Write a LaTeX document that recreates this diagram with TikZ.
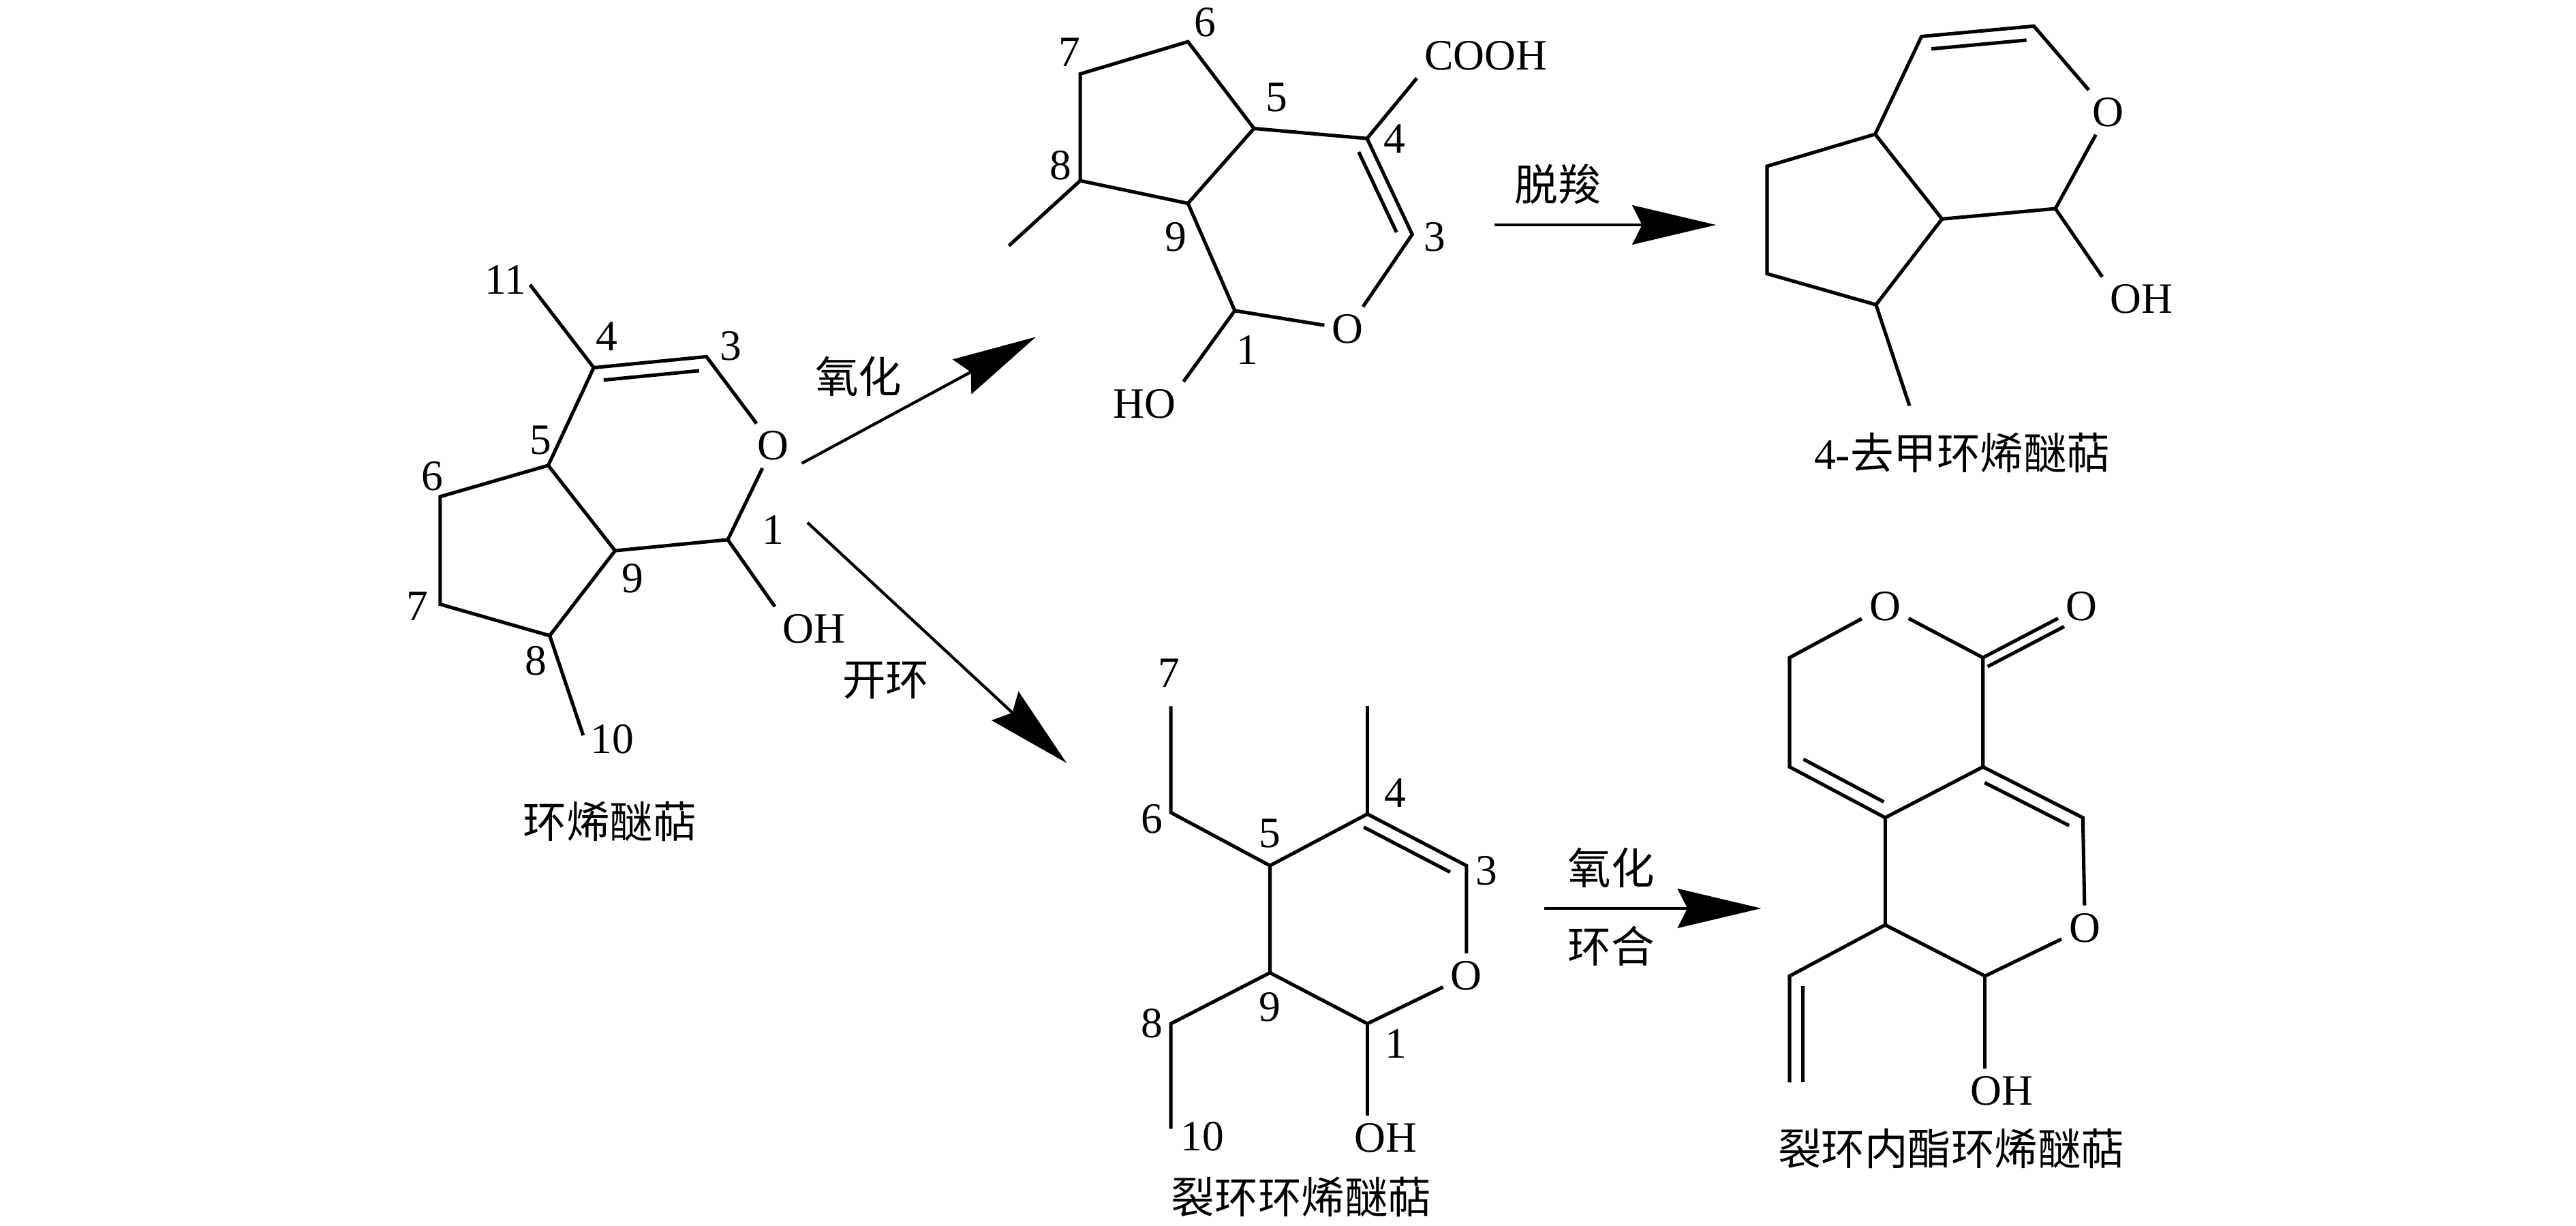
\documentclass[tikz,border=0pt]{standalone}
\usepackage{fontspec}
\setmainfont{Liberation Serif}
\newfontfamily\cjk{Noto Sans CJK SC}
\usetikzlibrary{arrows.meta,calc}
\newcommand\chemsize{\fontsize{15pt}{18pt}\selectfont}
% inner line of a double bond: [gap]{from}{to}{shorten start}{shorten end}
\newcommand\dbond[5][4.6pt]{\draw[bond,shorten <=#4,shorten >=#5] ($(#2)!#1!-90:(#3)$) -- ($(#3)!#1!90:(#2)$);}
\begin{document}
\begin{tikzpicture}
	[x=0.02cm,y=-0.02cm,
	bond/.style={line width=1.2pt,line join=miter},
	atom/.style={inner sep=2.5pt,font=\chemsize},
	num/.style={inner sep=0pt,font=\chemsize},
	cname/.style={inner sep=0pt,font=\chemsize\cjk},
	rxn/.style={line width=1pt,-{Stealth[length=29pt,width=13.6pt,inset=3.4pt]}}]
	\useasboundingbox (0,0) rectangle (1568,746);
	% iridoid
	\coordinate (a11) at (322.6,173.3);
	\coordinate (a4) at (361.4,223.8);
	\coordinate (a3) at (430.0,217.1);
	\node[atom,name=aO] at (470.7,271.4) {O};
	\coordinate (a1) at (443.0,328.5);
	\node[atom,name=aOH] at (495.4,382.8) {OH};
	\coordinate (a9) at (374.4,335.2);
	\coordinate (a5) at (333.7,283.3);
	\coordinate (a6) at (267.9,302.3);
	\coordinate (a7) at (267.9,367.8);
	\coordinate (a8) at (334.6,386.9);
	\coordinate (a10) at (355.0,447.6);
	\draw[bond](aO)--(a1)--(a9)--(a5)--(a4)--(a3)--(aO);
	\draw[bond](a9)--(a8)--(a7)--(a6)--(a5);
	\draw[bond](a11)--(a4);
	\draw[bond](a8)--(a10);
	\draw[bond](a1)--(aOH.north west);
	\dbond{a4}{a3}{3pt}{3pt}
	\node[num,name=la11] at (307.7,170.2) {11};
	\node[num,name=la4] at (369.2,204.7) {4};
	\node[num,name=la3] at (444.8,210.7) {3};
	\node[num,name=la5] at (329.0,267.8) {5};
	\node[num,name=la6] at (263.3,290.0) {6};
	\node[num,name=la7] at (254.0,369.0) {7};
	\node[num,name=la8] at (326.3,402.3) {8};
	\node[num,name=la9] at (385.1,351.9) {9};
	\node[num,name=la1] at (470.7,322.6) {1};
	\node[num,name=la10] at (372.6,450.0) {10};
	\node[cname,name=aname] at (371.1,500.0) {环烯醚萜};
	% oxidation product
	\coordinate (b8m) at (614.1,149.6);
	\coordinate (b8) at (657.5,110.0);
	\coordinate (b7) at (657.5,45.0);
	\coordinate (b6) at (723.1,25.4);
	\coordinate (b5) at (763.3,78.2);
	\coordinate (b4) at (832.1,84.3);
	\node[atom,name=bCOOH] at (904.5,34.0) {COOH};
	\coordinate (b3) at (859.6,142.7);
	\node[atom,name=bO] at (820.4,200.3) {O};
	\coordinate (b1) at (751.6,189.1);
	\coordinate (b9) at (723.1,123.8);
	\node[atom,name=bHO] at (696.6,245.9) {HO};
	\draw[bond](bO)--(b1)--(b9)--(b5)--(b4)--(b3)--(bO);
	\draw[bond](b9)--(b8)--(b7)--(b6)--(b5);
	\draw[bond](b8)--(b8m);
	\draw[bond](b4)--(bCOOH.south west);
	\draw[bond](b1)--(bHO.north east);
	\dbond{b4}{b3}{3pt}{3pt}
	\node[num,name=lb6] at (733.7,13.8) {6};
	\node[num,name=lb7] at (651.1,31.8) {7};
	\node[num,name=lb5] at (777.0,59.3) {5};
	\node[num,name=lb4] at (849.0,84.3) {4};
	\node[num,name=lb8] at (645.8,100.6) {8};
	\node[num,name=lb9] at (715.7,144.4) {9};
	\node[num,name=lb3] at (873.3,144.4) {3};
	\node[num,name=lb1] at (759.1,213.2) {1};
	% 4-demethyl iridoid
	\coordinate (c4) at (1169.6,22.2);
	\coordinate (c3) at (1238.0,15.9);
	\node[atom,name=cO] at (1283.1,68.4) {O};
	\coordinate (c1) at (1251.1,127.0);
	\node[atom,name=cOH] at (1303.4,182.1) {OH};
	\coordinate (c9) at (1182.1,133.3);
	\coordinate (c5) at (1141.4,81.7);
	\coordinate (c6) at (1075.6,101.2);
	\coordinate (c7) at (1075.6,166.6);
	\coordinate (c8) at (1141.9,185.5);
	\coordinate (c10) at (1162.3,247.0);
	\draw[bond](cO)--(c1)--(c9)--(c5)--(c4)--(c3)--(cO);
	\draw[bond](c9)--(c8)--(c7)--(c6)--(c5);
	\draw[bond](c8)--(c10);
	\draw[bond](c1)--(cOH.north west);
	\dbond{c4}{c3}{3pt}{3pt}
	\node[cname,name=cname] at (1194.3,275.7) {{\rmfamily 4-}去甲环烯醚萜};
	% secoiridoid
	\coordinate (d7) at (712.7,429.9);
	\coordinate (d6) at (712.7,494.6);
	\coordinate (d5) at (773.0,526.9);
	\coordinate (d4) at (832.3,495.5);
	\coordinate (d11) at (832.3,429.9);
	\coordinate (d3) at (892.6,526.9);
	\node[atom,name=dO] at (892.6,593.9) {O};
	\coordinate (d1) at (832.3,623.1);
	\node[atom,name=dOH] at (843.5,692.7) {OH};
	\coordinate (d9) at (773.0,592.1);
	\coordinate (d8) at (712.7,623.1);
	\coordinate (d10) at (712.7,687.1);
	\draw[bond](dO)--(d1)--(d9)--(d5)--(d4)--(d3)--(dO);
	\draw[bond](d7)--(d6)--(d5);
	\draw[bond](d11)--(d4);
	\draw[bond](d9)--(d8)--(d10);
	\draw[bond](d1)--(d1|-dOH.north);
	\dbond{d4}{d3}{1pt}{4pt}
	\node[num,name=ld7] at (711.7,409.7) {7};
	\node[num,name=ld6] at (701.1,498.4) {6};
	\node[num,name=ld5] at (773.0,507.4) {5};
	\node[num,name=ld4] at (849.2,482.7) {4};
	\node[num,name=ld3] at (904.9,529.9) {3};
	\node[num,name=ld9] at (773.0,613.0) {9};
	\node[num,name=ld8] at (701.1,623.1) {8};
	\node[num,name=ld1] at (849.8,635.4) {1};
	\node[num,name=ld10] at (731.8,691.6) {10};
	\node[cname,name=dname] at (792.1,728.6) {裂环环烯醚萜};
	% secoiridoid lactone
	\coordinate (eCH2) at (1089.3,400.3);
	\node[atom,name=eO1] at (1147.5,368.9) {O};
	\coordinate (eC) at (1207.0,400.3);
	\node[atom,name=eOc] at (1267.0,368.9) {O};
	\coordinate (eJ1) at (1207.0,466.8);
	\coordinate (eJ2) at (1147.5,497.7);
	\coordinate (eL) at (1089.3,466.8);
	\coordinate (eC3) at (1267.8,497.7);
	\node[atom,name=eO2] at (1269.1,564.7) {O};
	\coordinate (eC1) at (1208.3,594.1);
	\node[atom,name=eOH] at (1218.4,663.9) {OH};
	\coordinate (eC9) at (1147.5,563.0);
	\coordinate (eV1) at (1089.3,594.1);
	\coordinate (eV2) at (1089.3,658.9);
	\draw[bond](eO1)--(eC)--(eJ1)--(eJ2)--(eL)--(eCH2)--(eO1);
	\draw[bond](eJ1)--(eC3)--(eO2)--(eC1)--(eC9)--(eJ2);
	\draw[bond](eC9)--(eV1)--(eV2);
	\draw[bond](eC)--(eOc);
	\draw[bond](eC1)--(eC1|-eOH.north);
	\dbond{eJ2}{eL}{3pt}{3pt}
	\dbond{eJ1}{eC3}{3pt}{3pt}
	\dbond{eV2}{eV1}{0pt}{3.5pt}
	\dbond[3.5pt]{eC}{eOc}{0pt}{8.6pt}
	\node[cname,name=ename] at (1187.7,699.0) {裂环内酯环烯醚萜};
	% reaction arrows
	\coordinate (r1s) at (488.1,282.0);
	\coordinate (r1e) at (630.5,205.1);
	\coordinate (r2s) at (491.5,318.1);
	\coordinate (r2e) at (649.2,464.4);
	\coordinate (r3s) at (909.7,136.9);
	\coordinate (r3e) at (1044.5,136.9);
	\coordinate (r4s) at (939.8,552.9);
	\coordinate (r4e) at (1072.1,552.9);
	\draw[rxn](r1s)--(r1e);
	\draw[rxn](r2s)--(r2e);
	\draw[rxn](r3s)--(r3e);
	\draw[rxn](r4s)--(r4e);
	\node[cname,name=r1t] at (522.6,229.2) {氧化};
	\node[cname,name=r2t] at (539.2,414.4) {开环};
	\node[cname,name=r3t] at (948.4,112.1) {脱羧};
	\node[cname,name=r4t] at (980.8,528.3) {氧化};
	\node[cname,name=r4b] at (980.8,576.0) {环合};
\end{tikzpicture}
\end{document}
